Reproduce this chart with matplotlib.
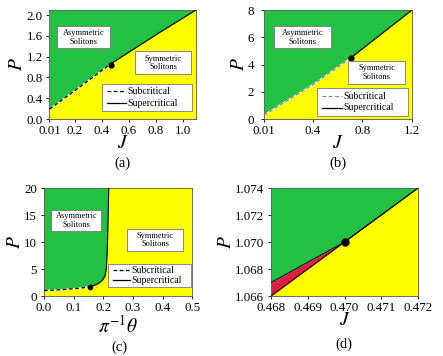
import matplotlib
matplotlib.use("Agg")
import matplotlib.pyplot as plt
import numpy as np

plt.rcParams['font.family'] = ['Liberation Serif', 'DejaVu Serif']
plt.rcParams['mathtext.fontset'] = 'stix'

GREEN = '#22C043'
YELLOW = '#FFFF00'
RED = '#DC1F45'

# Panel (a): boundary P(J)
a_J = [0.01, 0.2, 0.47, 0.8, 1.1]
a_P = [0.19, 0.55, 1.07, 1.62, 2.1]
a_crit = (0.47, 1.05)
a_xticks = [0.01, 0.2, 0.4, 0.6, 0.8, 1.0]
a_xticklabels = ['0.01', '0.2', '0.4', '0.6', '0.8', '1.0']
a_yticks = [0.0, 0.4, 0.8, 1.2, 1.6, 2.0]

# Panel (b)
b_J = [0.01, 0.4, 0.71, 1.2]
b_P = [0.3, 2.5, 4.5, 8.0]
b_crit = (0.71, 4.5)
b_xticks = [0.01, 0.4, 0.8, 1.2]
b_xticklabels = ['0.01', '0.4', '0.8', '1.2']
b_yticks = [0, 2, 4, 6, 8]

# Panel (c)
c_T = [0.0, 0.05, 0.1, 0.154, 0.18, 0.195, 0.205, 0.21, 0.213, 0.216, 0.218]
c_P = [1.0, 1.15, 1.35, 1.67, 2.2, 2.8, 3.6, 5.0, 8.0, 14.0, 20.0]
c_crit = (0.154, 1.67)
c_xticks = [0.0, 0.1, 0.2, 0.3, 0.4, 0.5]
c_yticks = [0, 5, 10, 15, 20]

# Panel (d)
d_J_up = [0.468, 0.470, 0.472]
d_P_up = [1.067, 1.070, 1.074]
d_J_low = [0.468, 0.470]
d_P_low = [1.066, 1.070]
d_crit = (0.470, 1.070)
d_xticks = [0.468, 0.469, 0.470, 0.471, 0.472]
d_yticks = [1.066, 1.068, 1.070, 1.072, 1.074]

fig = plt.figure(figsize=(4.43, 3.56), dpi=100)

TICK_FS = 9.3
LABEL_FS = 14

def style(ax, ypad=2.5):
    ax.tick_params(direction='out', labelsize=TICK_FS, length=2.5, width=0.6)
    ax.tick_params(axis='x', pad=1.5)
    ax.tick_params(axis='y', pad=ypad)
    for s in ax.spines.values():
        s.set_linewidth(0.6)
        s.set_color('#555555')

def textbox(ax, x, y, w, h, txt):
    ax.add_patch(plt.Rectangle((x, y), w, h, transform=ax.transAxes,
                               facecolor='white', edgecolor='#777777', lw=0.6, zorder=5))
    ax.text(x + w / 2, y + h / 2, txt, transform=ax.transAxes, ha='center', va='center',
            fontsize=6.0, zorder=6, linespacing=1.1)

def legend_box(ax, x, y, w, h, dash_color='black'):
    ax.add_patch(plt.Rectangle((x, y), w, h, transform=ax.transAxes,
                               facecolor='white', edgecolor='#777777', lw=0.6, zorder=5))
    lx0 = x + 0.035
    lx1 = x + 0.27 * w
    y1 = y + h * 0.72
    y2 = y + h * 0.3
    ax.plot([lx0, lx1], [y1, y1], transform=ax.transAxes, color=dash_color, ls=(0, (3, 2)), lw=0.9, zorder=6)
    ax.plot([lx0, lx1], [y2, y2], transform=ax.transAxes, color='black', lw=0.9, zorder=6)
    ax.text(lx1 + 0.01, y1, 'Subcritical', transform=ax.transAxes, va='center', fontsize=7.0, zorder=6)
    ax.text(lx1 + 0.01, y2, 'Supercritical', transform=ax.transAxes, va='center', fontsize=7.0, zorder=6)

def boundary_panel(ax, xs, ys, crit, xlim, ylim, dash_color='black'):
    xs = np.array(xs); ys = np.array(ys)
    ax.fill_between(xs, ys, ylim[1], color=GREEN, lw=0, zorder=1)
    ax.fill_between(xs, ylim[0], ys, color=YELLOW, lw=0, zorder=1)
    if xs[-1] < xlim[1]:
        ax.fill_between([xs[-1], xlim[1]], ylim[0], ylim[1], color=YELLOW, lw=0, zorder=1)
    xf = np.linspace(xs[0], xs[-1], 300)
    yf = np.interp(xf, xs, ys)
    sub = xf <= crit[0]
    ax.plot(xf[sub], yf[sub], color='white', lw=1.0, zorder=2)
    ax.plot(xf[sub], yf[sub], color=dash_color, lw=0.9, ls=(0, (3, 2)), zorder=3)
    ax.plot(xf[~sub], yf[~sub], color='black', lw=0.8, zorder=3)
    ax.plot(*crit, 'o', color='black', ms=3.5, zorder=4)
    ax.set_xlim(*xlim); ax.set_ylim(*ylim)

# (a)
axa = fig.add_axes([0.1117, 0.6657, 0.3307, 0.3062])
boundary_panel(axa, a_J, a_P, a_crit, (0.01, 1.1), (0.0, 2.1))
axa.set_xticks(a_xticks); axa.set_xticklabels(a_xticklabels)
axa.set_yticks(a_yticks); axa.set_yticklabels([f'{v:.1f}' for v in a_yticks])
style(axa)
textbox(axa, 0.05, 0.65, 0.365, 0.2, 'Asymmetric\nSolitons')
textbox(axa, 0.585, 0.41, 0.38, 0.21, 'Symmetric\nSolitons')
legend_box(axa, 0.36, 0.07, 0.61, 0.255)
axa.set_xlabel('$J$', fontsize=LABEL_FS, labelpad=-1)
axa.set_ylabel('$P$', fontsize=LABEL_FS, labelpad=0)
fig.text(0.2775, 0.542, '(a)', ha='center', va='center', fontsize=10.5)

# (b)
axb = fig.add_axes([0.596, 0.6657, 0.334, 0.3062])
boundary_panel(axb, b_J, b_P, b_crit, (0.01, 1.2), (0.0, 8.0), dash_color='#888888')
axb.set_xticks(b_xticks); axb.set_xticklabels(b_xticklabels)
axb.set_yticks(b_yticks)
style(axb, ypad=4.5)
textbox(axb, 0.07, 0.65, 0.38, 0.2, 'Asymmetric\nSolitons')
textbox(axb, 0.57, 0.32, 0.385, 0.21, 'Symmetric\nSolitons')
legend_box(axb, 0.36, 0.03, 0.61, 0.25, dash_color='#888888')
axb.set_xlabel('$J$', fontsize=LABEL_FS, labelpad=-1)
axb.set_ylabel('$P$', fontsize=LABEL_FS, labelpad=0)
fig.text(0.763, 0.542, '(b)', ha='center', va='center', fontsize=10.5)

# (c)
axc = fig.add_axes([0.0993, 0.1685, 0.335, 0.3034])
ct = np.array(c_T); cp = np.array(c_P)
axc.fill_between([0, 0.5], 0, 20, color=YELLOW, lw=0, zorder=0)
axc.fill_betweenx(cp, 0, ct, color=GREEN, lw=0, zorder=1)
axc.fill_between(ct, 0, cp, color=YELLOW, lw=0, zorder=1)
sub = ct <= c_crit[0]
axc.plot(ct[sub], cp[sub], color='white', lw=1.0, zorder=2)
axc.plot(ct[sub], cp[sub], color='black', lw=0.9, ls=(0, (3, 2)), zorder=3)
sup = ct >= c_crit[0]
axc.plot(ct[sup], cp[sup], color='black', lw=0.8, zorder=3)
axc.plot(*c_crit, 'o', color='black', ms=3, zorder=4)
axc.set_xlim(0, 0.5); axc.set_ylim(0, 20)
axc.set_xticks(c_xticks); axc.set_xticklabels([f'{v:.1f}' for v in c_xticks])
axc.set_yticks(c_yticks)
style(axc)
textbox(axc, 0.05, 0.6, 0.335, 0.2, 'Asymmetric\nSolitons')
textbox(axc, 0.56, 0.42, 0.38, 0.2, 'Symmetric\nSolitons')
legend_box(axc, 0.43, 0.08, 0.56, 0.22)
axc.set_xlabel(r'$\pi^{-1}\theta$', fontsize=LABEL_FS, labelpad=1)
axc.set_ylabel('$P$', fontsize=LABEL_FS, labelpad=0)
fig.text(0.27, 0.025, '(c)', ha='center', va='center', fontsize=10.5)

# (d)
axd = fig.add_axes([0.6117, 0.1685, 0.332, 0.3034])
ju = np.array(d_J_up); pu = np.array(d_P_up)
jl = np.array(d_J_low); pl = np.array(d_P_low)
axd.fill_between(ju, pu, 1.074, color=GREEN, lw=0, zorder=1)
axd.fill_between([0.468, 0.472], 1.066, [1.066, 1.074], color=YELLOW, lw=0, zorder=1)
pu_at_l = np.interp(jl, ju, pu)
axd.fill_between(jl, pl, pu_at_l, color=RED, lw=0, zorder=1)
axd.plot(ju, pu, color='black', lw=0.7, zorder=3)
axd.plot([0.468, 0.472], [1.066, 1.074], color='black', lw=0.7, zorder=3)
axd.plot(*d_crit, 'o', color='black', ms=5, zorder=4)
axd.set_xlim(0.468, 0.472); axd.set_ylim(1.066, 1.074)
axd.set_xticks(d_xticks); axd.set_xticklabels([f'{v:.3f}' for v in d_xticks])
axd.set_yticks(d_yticks); axd.set_yticklabels([f'{v:.3f}' for v in d_yticks])
style(axd)
axd.set_xlabel('$J$', fontsize=LABEL_FS, labelpad=-1)
axd.set_ylabel('$P$', fontsize=LABEL_FS, labelpad=0)
fig.text(0.777, 0.032, '(d)', ha='center', va='center', fontsize=10.5)

fig.savefig('out.png', dpi=100)
